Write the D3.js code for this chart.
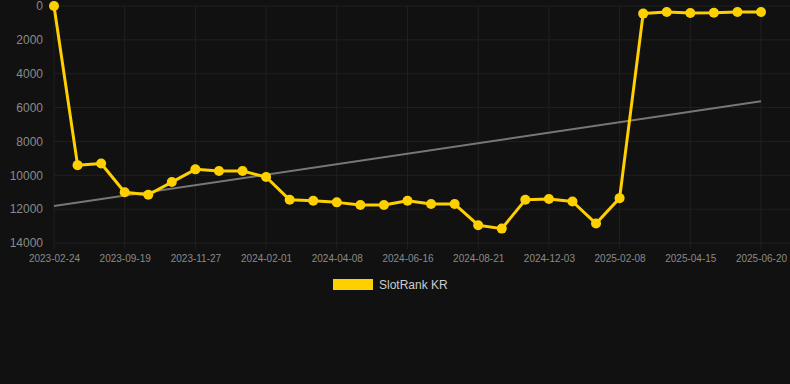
<!DOCTYPE html>
<html><head><meta charset="utf-8">
<script src="https://cdn.jsdelivr.net/npm/d3@7"></script>
<style>html,body{margin:0;padding:0;background:#111111;}svg{display:block;}</style>
</head><body>
<svg id="c" width="790" height="384"></svg>
<script>
const dates = ["2023-02-24","2023-05-06","2023-07-15","2023-09-19","2023-10-12","2023-11-04","2023-11-27","2023-12-19","2024-01-10","2024-02-01","2024-02-23","2024-03-16","2024-04-08","2024-04-30","2024-05-23","2024-06-16","2024-07-08","2024-07-30","2024-08-21","2024-10-01","2024-11-12","2024-12-03","2024-12-26","2025-01-17","2025-02-08","2025-03-02","2025-03-24","2025-04-15","2025-05-07","2025-05-29","2025-06-20"];
const rankKR = [0,9400,9300,11000,11150,10400,9650,9750,9750,10100,11450,11500,11600,11750,11750,11500,11700,11700,12950,13150,11450,11400,11550,12850,11350,450,350,410,400,350,350];
const yTicks = [0,2000,4000,6000,8000,10000,12000,14000];
const seriesName = "SlotRank KR";

const svg = d3.select("#c");
const L = 54, R = 761, T = 6, B = 243;
const x = d3.scalePoint().domain(d3.range(dates.length)).range([L, R]);
const y = d3.scaleLinear().domain([0, 14000]).range([T, B]);
const labelIdx = d3.range(0, dates.length, 3);

// grid
svg.append("g").selectAll("line").data(yTicks).join("line")
  .attr("x1", L).attr("x2", 790).attr("y1", d => y(d)).attr("y2", d => y(d))
  .attr("stroke", "#202020").attr("stroke-width", 1);
svg.append("g").selectAll("line").data(labelIdx).join("line")
  .attr("x1", d => x(d)).attr("x2", d => x(d)).attr("y1", T).attr("y2", B + 6)
  .attr("stroke", "#202020").attr("stroke-width", 1);

// y axis labels
const yAxis = d3.axisLeft(y).tickValues(yTicks).tickSize(0).tickPadding(0).tickFormat(d => d);
const gy = svg.append("g").attr("transform", `translate(${43},0)`).call(yAxis);
gy.select(".domain").remove();
gy.selectAll("text").attr("fill", "#8a8a8a").attr("font-family", "Arial, Liberation Sans, sans-serif").attr("font-size", 12);

// x axis labels
const xAxis = d3.axisBottom(x).tickValues(labelIdx).tickSize(0).tickPadding(0).tickFormat(i => dates[i]);
const gx = svg.append("g").attr("transform", `translate(0,${255})`).call(xAxis);
gx.select(".domain").remove();
gx.selectAll("text").attr("fill", "#8a8a8a").attr("font-family", "Arial, Liberation Sans, sans-serif").attr("font-size", 10);

// trend line (least squares over index)
const n = rankKR.length;
const mx = d3.mean(d3.range(n)), my = d3.mean(rankKR);
const slope = d3.sum(d3.range(n), i => (i - mx) * (rankKR[i] - my)) / d3.sum(d3.range(n), i => (i - mx) ** 2);
const icpt = my - slope * mx;
svg.append("line")
  .attr("x1", x(0)).attr("y1", y(icpt))
  .attr("x2", x(n - 1)).attr("y2", y(icpt + slope * (n - 1)))
  .attr("stroke", "#777777").attr("stroke-width", 2);

// series line
const line = d3.line().x((d, i) => x(i)).y(d => y(d));
svg.append("path").datum(rankKR).attr("d", line)
  .attr("fill", "none").attr("stroke", "#FFD000").attr("stroke-width", 3).attr("stroke-linejoin", "round");
svg.append("g").selectAll("circle").data(rankKR).join("circle")
  .attr("cx", (d, i) => x(i)).attr("cy", d => y(d)).attr("r", 5)
  .attr("fill", "#FFD000");

// legend
svg.append("rect").attr("x", 333).attr("y", 279).attr("width", 40).attr("height", 11).attr("fill", "#FFD000");
svg.append("text").attr("x", 379).attr("y", 289).text(seriesName)
  .attr("fill", "#cccccc").attr("font-family", "Arial, Liberation Sans, sans-serif").attr("font-size", 12);
</script>
</body></html>
